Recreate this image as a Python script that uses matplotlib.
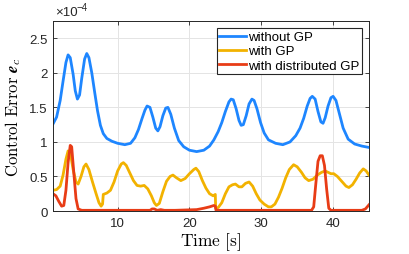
import matplotlib
matplotlib.use('Agg')
import matplotlib.pyplot as plt
import numpy as np

# values, in units of 1e-4
t_nogp = [1.0, 1.5, 2.0, 2.4, 2.8, 3.1, 3.4, 3.8, 4.1, 4.4, 4.7, 5.0, 5.4, 5.7, 6.0,
          6.4, 6.8, 7.2, 7.6, 8.0, 8.5, 9.2, 10.0, 11.0, 11.8, 12.4, 12.9, 13.4, 13.8,
          14.1, 14.5, 14.9, 15.3, 15.6, 15.9, 16.3, 16.7, 17.0, 17.4, 17.9, 18.5, 19.2,
          20.0, 21.0, 22.0, 22.8, 23.4, 24.0, 24.5, 25.0, 25.5, 25.8, 26.1, 26.5, 26.9,
          27.2, 27.5, 27.9, 28.3, 28.7, 29.0, 29.4, 29.9, 30.4, 31.0, 32.0, 33.0, 34.0,
          34.8, 35.4, 35.9, 36.4, 36.8, 37.1, 37.5, 37.9, 38.3, 38.6, 38.9, 39.3, 39.7,
          40.0, 40.4, 40.9, 41.4, 42.1, 43.0, 44.0, 45.0]
e_nogp = [1.26, 1.36, 1.60, 1.88, 2.15, 2.26, 2.22, 1.98, 1.74, 1.62, 1.68, 1.92, 2.20,
          2.28, 2.22, 2.00, 1.72, 1.45, 1.24, 1.12, 1.05, 1.01, 0.98, 0.96, 0.98, 1.06,
          1.18, 1.34, 1.46, 1.52, 1.50, 1.36, 1.20, 1.16, 1.22, 1.38, 1.49, 1.50, 1.40,
          1.20, 1.02, 0.93, 0.88, 0.86, 0.88, 0.94, 1.03, 1.15, 1.28, 1.44, 1.58, 1.62,
          1.61, 1.48, 1.31, 1.24, 1.25, 1.38, 1.55, 1.62, 1.60, 1.48, 1.28, 1.13, 1.03,
          0.98, 0.96, 1.00, 1.09, 1.20, 1.34, 1.52, 1.63, 1.66, 1.62, 1.44, 1.29, 1.27,
          1.35, 1.52, 1.64, 1.66, 1.60, 1.40, 1.20, 1.04, 0.97, 0.94, 0.92]

t_gp = [1.0, 1.5, 2.0, 2.4, 2.8, 3.1, 3.4, 3.8, 4.2, 4.5, 4.9, 5.3, 5.6, 6.0, 6.5, 7.0,
        7.4, 7.7, 7.9, 8.0, 8.5, 9.0, 9.5, 10.0, 10.5, 10.8, 11.2, 11.7, 12.2, 12.7,
        13.2, 13.7, 14.2, 14.7, 15.1, 15.4, 15.8, 16.3, 16.8, 17.3, 17.7, 18.2, 18.8,
        19.4, 20.0, 20.6, 20.9, 21.3, 21.8, 22.3, 22.8, 23.3, 23.6, 23.65, 24.0, 24.5,
        25.0, 25.5, 26.0, 26.4, 26.9, 27.3, 27.8, 28.3, 28.8, 29.3, 29.8, 30.4, 31.0,
        31.4, 31.9, 32.4, 32.9, 33.4, 33.9, 34.5, 35.0, 35.6, 36.1, 36.6, 37.2, 37.8,
        38.4, 38.9, 39.3, 39.7, 40.1, 40.6, 41.2, 41.8, 42.2, 42.7, 43.2, 43.7, 44.2,
        44.6, 45.0]
e_gp = [0.30, 0.31, 0.36, 0.52, 0.75, 0.87, 0.85, 0.60, 0.42, 0.39, 0.50, 0.64, 0.68,
        0.60, 0.42, 0.25, 0.12, 0.07, 0.10, 0.24, 0.26, 0.30, 0.42, 0.58, 0.68, 0.70,
        0.66, 0.55, 0.44, 0.37, 0.36, 0.37, 0.32, 0.22, 0.12, 0.08, 0.11, 0.28, 0.43,
        0.50, 0.52, 0.48, 0.44, 0.47, 0.54, 0.60, 0.62, 0.57, 0.44, 0.33, 0.25, 0.22,
        0.24, 0.04, 0.05, 0.12, 0.25, 0.35, 0.38, 0.39, 0.35, 0.35, 0.40, 0.42, 0.36,
        0.25, 0.16, 0.10, 0.06, 0.06, 0.10, 0.20, 0.33, 0.48, 0.60, 0.67, 0.64, 0.56,
        0.48, 0.44, 0.46, 0.52, 0.56, 0.58, 0.56, 0.54, 0.54, 0.50, 0.43, 0.36, 0.34,
        0.38, 0.46, 0.55, 0.61, 0.58, 0.52]

t_dgp = [1.0, 1.4, 1.8, 2.2, 2.5, 2.8, 3.1, 3.4, 3.6, 3.9, 4.2, 4.5, 5.0, 8.0, 11.0,
         14.5, 14.8, 15.1, 15.5, 16.0, 16.5, 18.0, 21.0, 22.0, 22.8, 23.4, 23.6, 23.7,
         26.0, 30.0, 34.0, 37.0, 37.3, 37.6, 37.9, 38.2, 38.5, 38.8, 39.1, 39.4, 39.7,
         42.0, 44.0, 44.5, 45.0]
e_dgp = [0.25, 0.22, 0.14, 0.07, 0.08, 0.30, 0.70, 0.95, 0.93, 0.55, 0.18, 0.03, 0.01,
         0.01, 0.01, 0.01, 0.03, 0.03, 0.01, 0.02, 0.01, 0.01, 0.02, 0.04, 0.06, 0.08,
         0.07, 0.01, 0.01, 0.01, 0.01, 0.01, 0.06, 0.40, 0.72, 0.80, 0.80, 0.66, 0.32,
         0.04, 0.01, 0.01, 0.01, 0.03, 0.09]

labels = ['without GP', 'with GP', 'with distributed GP']
colors = ['#1e86ff', '#f2b200', '#e83c16']
xticks = [10, 20, 30, 40]
yticks = [0, 0.5, 1, 1.5, 2, 2.5]
yticklabels = ['0', '0.5', '1', '1.5', '2', '2.5']

plt.rcParams['mathtext.fontset'] = 'cm'
plt.rcParams['font.family'] = ['Liberation Sans', 'DejaVu Sans']

fig = plt.figure(figsize=(4.09, 2.55), dpi=100)
ax = fig.add_axes([0.1296, 0.1686, 0.7726, 0.745])

ax.plot(t_nogp, e_nogp, color=colors[0], lw=2.0, label=labels[0])
ax.plot(t_gp, e_gp, color=colors[1], lw=2.0, label=labels[1])
ax.plot(t_dgp, e_dgp, color=colors[2], lw=2.0, label=labels[2])

ax.set_xlim(1, 45)
ax.set_ylim(0, 2.75)
ax.set_xticks(xticks)
ax.set_yticks(yticks)
ax.set_yticklabels(yticklabels)
ax.tick_params(direction='in', length=3, width=0.6, labelsize=9.5, top=True, right=True,
               colors='#262626', pad=4)
ax.grid(True, color='#e4e4e4', lw=0.7)
ax.set_axisbelow(True)
for s in ax.spines.values():
    s.set_color('#262626')
    s.set_linewidth(0.7)

# scale factor shown above the y axis, MATLAB style
ax.text(0.005, 1.015, '\u00d710', transform=ax.transAxes, fontsize=9.5,
        color='#262626', ha='left', va='bottom')
ax.text(0.075, 1.05, '\u22124', transform=ax.transAxes, fontsize=7,
        color='#262626', ha='left', va='bottom')

ax.set_xlabel(r'$\mathrm{Time\ [s]}$', fontsize=12.5, labelpad=1)
ax.set_ylabel(r'$\mathrm{Control\ Error}\ \mathbfit{e}_c$', fontsize=12, labelpad=4)

leg = ax.legend(loc='upper right', fontsize=9.5, fancybox=False, framealpha=1,
                edgecolor='#262626', labelspacing=0.15, handlelength=2.0,
                handletextpad=0.15, borderpad=0.2, borderaxespad=0.55)
leg.get_frame().set_linewidth(0.8)

fig.savefig('out.png', dpi=100)
